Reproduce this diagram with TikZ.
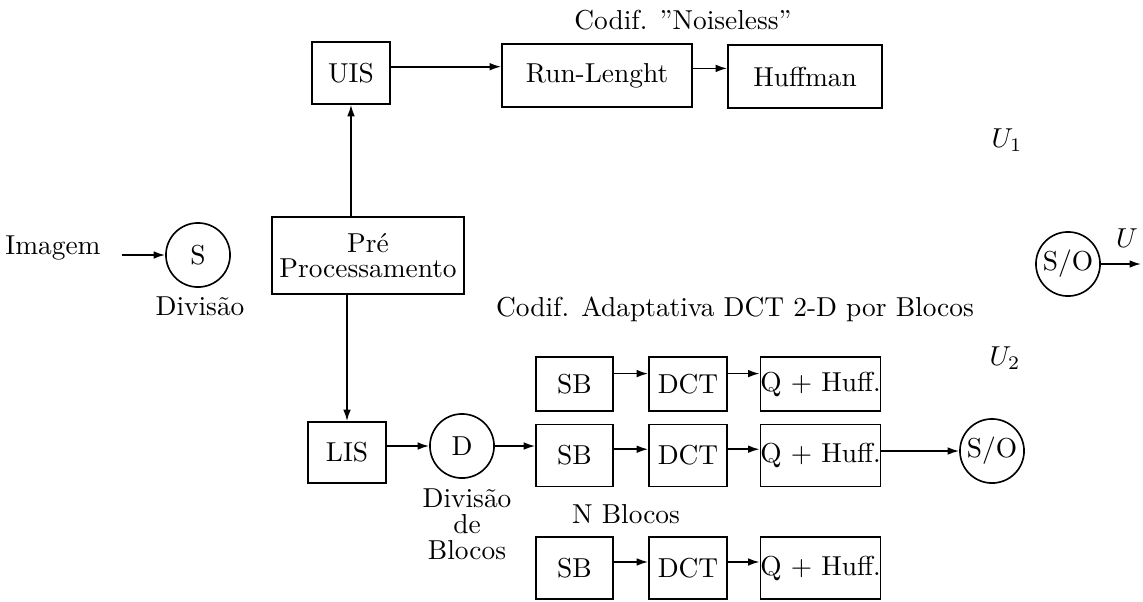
\documentclass[tikz,border=0pt]{standalone}
\usepackage{tikz}
\usetikzlibrary{arrows.meta}
\tikzset{
  bloco/.style={draw,semithick,inner sep=1pt,minimum height=22.6pt},
  circulo/.style={draw,semithick,circle,minimum size=23.4pt,inner sep=0pt},
  seta/.style={-{Latex[length=4.2pt,width=2.8pt]},semithick},
}
\begin{document}
\begin{tikzpicture}[x=0.365pt,y=-0.365pt]
\useasboundingbox (0,0) rectangle (1143,601);
% entrada e pre-processamento
\node[inner sep=0pt] (img) at (53,248) {Imagem};
\coordinate (ini) at (122,255);
\node[circulo] (s) at (198,255) {S};
\node (divs) at (200,306) {Divisão};
\node[bloco,minimum width=70pt,minimum height=28.1pt,align=center] (pre) at (368,255.5) {Pré\\[-2.9pt]Processamento};
% ramo superior
\node[bloco,minimum width=28.5pt] (uis) at (351,73) {UIS};
\node[bloco,minimum width=69.4pt,minimum height=23pt] (run) at (597,75.5) {Run-Lenght};
\node[bloco,minimum width=56.2pt,minimum height=23pt] (huf) at (805,76.5) {Huffman};
\node (noise) at (683,20) {Codif. ”Noiseless”};
\node (u1) at (1007,140) {$U_1$};
\node[circulo] (so1) at (1068,264) {S/O};
\coordinate (uout) at (1141,264);
\node (u) at (1127,238) {$U$};
% ramo inferior
\node (adapt) at (735,309) {Codif. Adaptativa DCT 2-D por Blocos};
\node (u2) at (1005,358) {$U_2$};
\node[bloco,minimum width=28.5pt,minimum height=22.3pt] (lis) at (347,452.5) {LIS};
\node[circulo] (d) at (462,446) {D};
\node[align=center] (divb) at (467,524.5) {Divisão\\[-2.5pt]de\\[-2.5pt]Blocos};
\node (nblocos) at (626,514) {N Blocos};
\foreach \r/\y/\h in {1/384/19.7pt,2/455.5/22.6pt,3/568/22.6pt}{
  \node[bloco,minimum width=28.1pt,minimum height=\h] (sb\r) at (574.5,\y) {SB};
  \node[bloco,minimum width=28.5pt,minimum height=\h] (dct\r) at (688,\y) {DCT};
  \node[bloco,minimum width=42pt,minimum height=\h,inner xsep=0pt] (q\r) at (820.5,\y) {Q + Huff.};
}
\node[circulo] (so2) at (992,451) {S/O};
% setas
\draw[seta] (ini) -- (s.west);
\draw[seta] (pre.north -| uis.south) -- (uis.south);
\draw[seta] (pre.south -| lis.north) -- (lis.north);
\draw[seta] ([yshift=2.3pt]uis.east) -- ([yshift=2.3pt]uis.east -| run.west);
\draw[seta] ([yshift=2.6pt]run.east) -- ([yshift=2.6pt]run.east -| huf.west);
\draw[seta] (so1.east) -- (uout);
\draw[seta] (lis.east |- d.west) -- (d.west);
\draw[seta] (d.east) -- (d.east -| sb2.west);
\foreach \r/\dy in {1/3.8pt,2/2.3pt,3/2.2pt}{
  \draw[seta] ([yshift=\dy]sb\r.east) -- ([yshift=\dy]sb\r.east -| dct\r.west);
  \draw[seta] ([yshift=\dy]dct\r.east) -- ([yshift=\dy]dct\r.east -| q\r.west);
}
\draw[seta] (q2.east |- so2.west) -- (so2.west);
\end{tikzpicture}
\end{document}
